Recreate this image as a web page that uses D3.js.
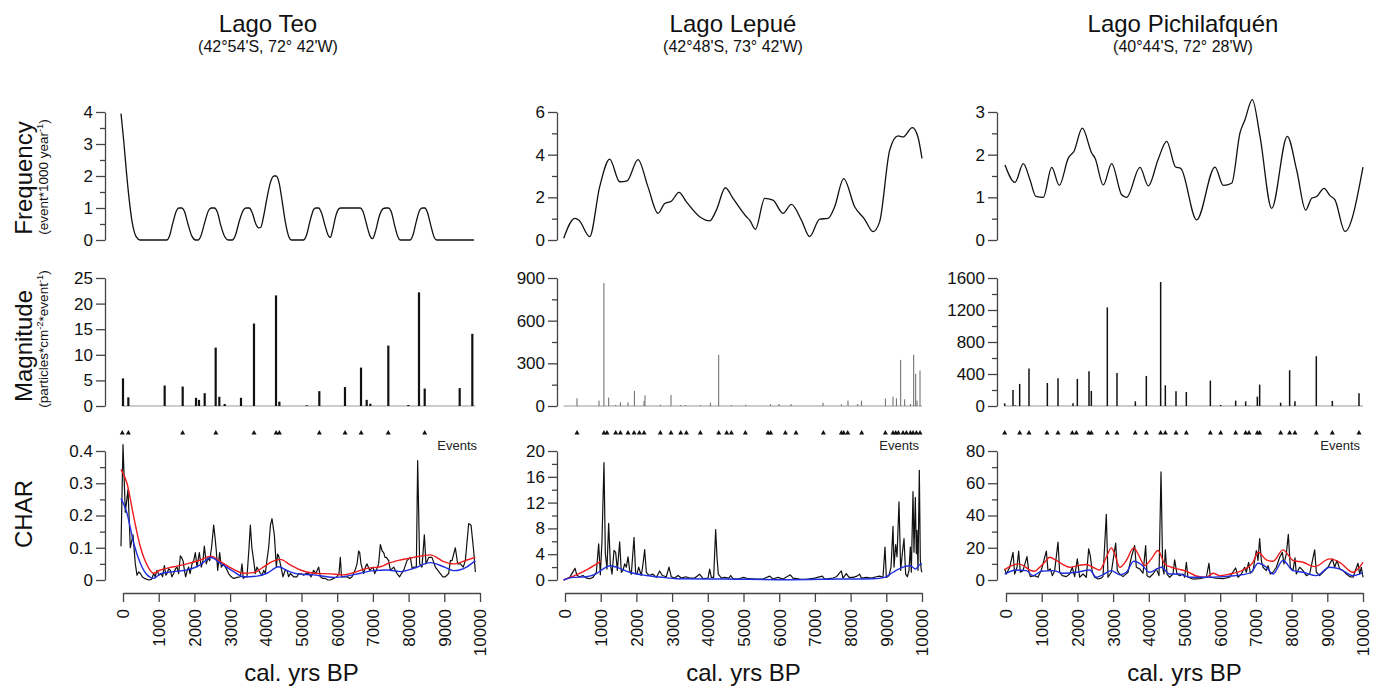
<!DOCTYPE html>
<html>
<head>
<meta charset="utf-8">
<title>Fire history - Lago Teo, Lepué, Pichilafquén</title>
<script src="https://d3js.org/d3.v7.min.js"></script>
<style>
  body { margin: 0; background: #fff; }
  svg { font-family: "Liberation Sans", Arial, sans-serif; }
</style>
</head>
<body>
<div id="chart"></div>
<script>
// ---------- data: [cal. yrs BP, value] ----------

// Lago Teo
const teoFreq = [[-56,3.95],[20,3.1],[90,2.2],[170,1.3],[250,0.6],[330,0.2],[420,0.03],[476,0],
  [1223,0],[1300,0.12],[1400,0.55],[1500,0.92],[1560,1],[1650,1],[1720,0.9],[1820,0.5],[1930,0.12],[2030,0],
  [2100,0],[2180,0.12],[2290,0.55],[2400,0.93],[2470,1],[2560,1],[2640,0.88],[2740,0.45],[2850,0.1],[2950,0],
  [3060,0],[3150,0.15],[3260,0.6],[3380,0.95],[3450,1],[3540,1],[3620,0.85],[3720,0.5],[3800,0.38],[3860,0.4],
  [3940,0.75],[4040,1.35],[4130,1.8],[4230,2.0],[4290,2.0],[4370,1.8],[4460,1.2],[4550,0.55],[4640,0.12],[4725,0],
  [5050,0],[5140,0.15],[5240,0.6],[5340,0.95],[5400,1],[5480,1],[5560,0.85],[5660,0.45],[5760,0.12],[5810,0.08],
  [5870,0.3],[5960,0.75],[6050,0.98],[6100,1],[6650,1],[6720,0.9],[6820,0.5],[6920,0.12],[6990,0.04],
  [7080,0.3],[7180,0.75],[7290,0.98],[7360,1],[7440,1],[7510,0.9],[7610,0.45],[7700,0.1],[7760,0],
  [8040,0],[8120,0.15],[8220,0.6],[8320,0.95],[8390,1],[8460,1],[8530,0.85],[8630,0.42],[8720,0.08],[8790,0],[9830,0]];
const teoMag = [[0,5.4],[150,1.7],[1167,4.0],[1672,3.8],[2045,1.6],[2129,1.2],[2288,2.5],[2596,11.4],[2698,1.8],
  [2848,0.4],[3305,1.6],[3669,16.1],[4286,21.6],[4380,0.85],[5146,0.15],[5499,2.9],[6218,3.7],[6667,7.5],[6826,1.2],
  [6928,0.45],[7432,11.8],[7992,0.2],[8291,22.2],[8451,3.4],[9431,3.5],[9785,14.1]];
const teoEvents = [-20,150,1670,2600,3670,4290,4380,5500,6220,6670,7430,8450];
const teoChar = [[-56,0.105],[0,0.42],[65,0.21],[140,0.28],[205,0.10],[280,0.14],[345,0.05],[392,0.015],[440,0.025],
  [486,0.02],[540,0.01],[598,0.005],[719,0],[800,0.002],[859,0.02],[900,0.01],[952,0.03],[1010,0.015],[1064,0.02],
  [1110,0.01],[1158,0.045],[1200,0.015],[1232,0.02],[1280,0.035],[1326,0.03],[1370,0.01],[1419,0.02],[1470,0.035],
  [1513,0.04],[1560,0.02],[1606,0.075],[1640,0.07],[1681,0.06],[1720,0.03],[1755,0.01],[1800,0.03],[1839,0.04],
  [1880,0.02],[1933,0.05],[1980,0.06],[2026,0.085],[2073,0.04],[2138,0.085],[2194,0.04],[2240,0.06],[2278,0.105],
  [2334,0.05],[2380,0.07],[2428,0.06],[2480,0.1],[2540,0.17],[2580,0.13],[2614,0.09],[2652,0.03],[2708,0.085],
  [2754,0.04],[2820,0.05],[2894,0.035],[2960,0.02],[3030,0.01],[3100,0.005],[3200,0.008],[3287,0.01],[3333,0.05],
  [3370,0.005],[3420,0.01],[3473,0.01],[3530,0.1],[3567,0.17],[3610,0.1],[3660,0.06],[3707,0.02],[3750,0.04],
  [3800,0.03],[3850,0.02],[3894,0.015],[3940,0.03],[3987,0.02],[4030,0.06],[4080,0.1],[4130,0.17],[4174,0.19],
  [4239,0.14],[4295,0.04],[4330,0.08],[4360,0.075],[4426,0.04],[4482,0.01],[4540,0.03],[4594,0.03],[4640,0.01],
  [4687,0.02],[4781,0.01],[4874,0.01],[4920,0.02],[4967,0.02],[5061,0.015],[5130,0.02],[5201,0.02],[5270,0.01],
  [5341,0.03],[5400,0.02],[5481,0.04],[5528,0.01],[5600,0.005],[5668,0.005],[5740,0],[5808,0],[5900,0.005],
  [5994,0.01],[6050,0.02],[6088,0.07],[6120,0.01],[6162,0.01],[6274,0.01],[6350,0.005],[6415,0.01],[6500,0.03],
  [6555,0.05],[6601,0.09],[6630,0.085],[6667,0.05],[6741,0.02],[6790,0.04],[6835,0.05],[6909,0.03],[7003,0.04],
  [7050,0.02],[7096,0.03],[7160,0.05],[7208,0.11],[7260,0.09],[7302,0.085],[7340,0.07],[7376,0.07],[7442,0.06],
  [7489,0.03],[7582,0.04],[7675,0.02],[7750,0.01],[7800,0.02],[7862,0.03],[7955,0.06],[8049,0.07],[8100,0.035],
  [8142,0.04],[8217,0.04],[8254,0.37],[8310,0.05],[8375,0.04],[8441,0.14],[8487,0.05],[8562,0.07],[8655,0.07],
  [8749,0.04],[8820,0.03],[8889,0.02],[8960,0.01],[9029,0.01],[9122,0.02],[9170,0.06],[9216,0.06],[9309,0.1],
  [9375,0.05],[9450,0.05],[9530,0.04],[9590,0.06],[9683,0.175],[9749,0.17],[9823,0.09],[9870,0.025]];
const teoThreshold = [[-56,0.343],[112,0.30],[300,0.196],[486,0.103],[672,0.047],[859,0.021],[1046,0.031],[1419,0.041],
  [1793,0.05],[2166,0.062],[2465,0.074],[2726,0.057],[3100,0.033],[3380,0.021],[3660,0.023],[3940,0.041],[4174,0.057],
  [4407,0.064],[4687,0.047],[4967,0.031],[5341,0.021],[5808,0.019],[6181,0.016],[6461,0.023],[6835,0.036],[7208,0.041],
  [7442,0.052],[7768,0.062],[8142,0.07],[8609,0.078],[8982,0.057],[9262,0.05],[9636,0.062],[9870,0.07]];
const teoBackground = [[-56,0.253],[112,0.207],[300,0.114],[486,0.052],[672,0.016],[859,0.005],[1046,0.019],[1419,0.026],
  [1793,0.031],[2166,0.047],[2465,0.07],[2726,0.052],[3100,0.026],[3380,0.01],[3754,0.012],[4034,0.021],[4360,0.041],
  [4594,0.029],[4874,0.019],[5341,0.016],[5901,0.008],[6274,0.012],[6648,0.021],[7021,0.029],[7395,0.031],[7768,0.026],
  [8142,0.036],[8609,0.054],[8982,0.041],[9262,0.029],[9636,0.041],[9870,0.06]];

// Lago Lepué
const lepueFreq = [[-36,0.08],[272,1.01],[392,0.93],[692,0.16],[972,2.5],[1252,3.79],[1532,2.73],[1737,2.77],[2045,3.77],
  [2325,2.49],[2605,1.25],[2793,1.71],[2980,1.82],[3193,2.23],[3400,1.79],[3773,1.09],[4053,0.9],[4240,1.4],[4492,2.45],
  [4706,1.95],[5080,1.09],[5173,0.93],[5333,0.5],[5594,1.95],[5826,1.87],[6106,1.25],[6342,1.67],[6622,0.93],[6854,0.16],
  [7134,0.98],[7367,1.01],[7554,1.56],[7806,2.88],[8114,1.56],[8394,0.97],[8627,0.39],[8814,0.86],[9094,4.2],[9326,4.88],
  [9466,4.83],[9730,5.27],[9887,4.83],[10000,3.82]];
const lepueMag = [[336,54],[952,38],[1090,865],[1224,59],[1420,7],[1552,26],[1765,26],[1944,106],[2213,35],[2241,75],
  [2672,9],[2969,78],[3241,7],[3381,7],[3793,7],[4073,23],[4305,360],[4661,7],[5061,9],[5753,12],[5994,14],[6330,14],
  [7227,23],[7742,12],[7927,38],[8199,14],[8302,38],[8975,52],[9187,66],[9283,54],[9403,324],[9515,47],[9675,14],
  [9767,360],[9823,226],[9860,38],[9944,249]];
const lepueEvents = [337,1093,1177,1420,1551,1765,1934,2083,2214,2671,2970,3241,3400,3792,4305,4529,4660,5052,5687,5762,
  6173,6471,7237,7741,7807,7919,8311,8974,9188,9263,9338,9468,9562,9674,9749,9842,9944];
const lepueChar = [[-37,0],[131,0.4],[280,1.8],[336,0.7],[411,0.5],[504,0.7],[598,0.3],[691,0.2],[784,0.4],[878,1.2],
  [943,5.6],[990,0.8],[1036,6.1],[1092,18.2],[1130,4.1],[1176,1.7],[1223,8.8],[1270,2.5],[1317,0.9],[1373,4.6],
  [1419,4.3],[1466,1.5],[1531,5.9],[1578,1.2],[1625,1.5],[1671,2.5],[1718,2.0],[1765,3.6],[1811,1.5],[1858,0.9],
  [1933,6.6],[1979,1.0],[2017,0.9],[2063,2.0],[2138,0.7],[2185,2.5],[2232,4.7],[2278,1.2],[2353,0.7],[2465,0.9],
  [2558,0.4],[2652,1.4],[2726,0.7],[2838,0.5],[2913,2.0],[2978,0.5],[3072,0.3],[3165,0.7],[3259,0.3],[3380,0.5],
  [3492,0.3],[3632,0.3],[3772,0.9],[3865,0.2],[4006,0.3],[4052,1.7],[4099,0.4],[4164,0.4],[4220,7.8],[4258,3.5],
  [4295,0.9],[4379,0.3],[4472,0.4],[4594,0.3],[4641,0.7],[4706,0.2],[4846,0.15],[5005,0.4],[5126,0.2],[5360,0.15],
  [5546,0.15],[5733,0.6],[5826,0.15],[5966,0.4],[6106,0.15],[6312,0.8],[6386,0.3],[6573,0.15],[6760,0.1],[6993,0.3],
  [7208,0.6],[7274,0.15],[7507,0.3],[7600,0.5],[7740,1.4],[7787,0.3],[7880,1.0],[7955,0.4],[8067,0.4],[8179,0.6],
  [8254,0.9],[8301,0.3],[8441,0.4],[8581,0.3],[8721,0.5],[8814,0.6],[8907,0.4],[8964,5.1],[9001,0.4],[9076,0.7],
  [9132,2.0],[9188,8.3],[9216,2.0],[9262,5.5],[9300,3.6],[9356,12.1],[9402,1.5],[9449,4.1],[9496,6.4],[9542,0.9],
  [9589,0.5],[9636,1.5],[9673,5.1],[9701,1.2],[9748,13.7],[9776,4.3],[9813,12.8],[9841,4.1],[9860,7.7],[9888,1.5],
  [9925,17.0],[9953,3.0],[9981,1.5],[10000,1.2]];
const lepueThreshold = [[-37,0],[317,0.8],[644,1.7],[1000,2.9]];
const lepueBackground = [[-37,0],[224,0.4],[598,0.5],[878,1.0],[1064,1.7],[1270,2.2],[1438,2.0],[1811,1.2],[2278,0.7],
  [2745,0.4],[3119,0.2],[4426,0.15],[6293,0.05],[7694,0.15],[8627,0.2],[8954,0.4],[9188,1.2],[9468,2.0],[9673,2.2],
  [9822,1.7],[9935,2.4],[10000,2.5]];

// Lago Pichilafquén
const pichiFreq = [[-28,1.76],[252,1.35],[485,1.79],[672,1.41],[840,1.02],[1045,1.0],[1280,1.7],[1493,1.28],[1745,1.92],
  [1905,2.08],[2137,2.62],[2400,2.04],[2493,1.92],[2725,1.29],[2960,1.79],[3240,1.06],[3380,1.0],[3753,1.7],[3986,1.27],
  [4266,1.9],[4501,2.31],[4753,1.71],[4893,1.68],[5341,0.47],[5854,1.71],[6087,1.28],[6322,1.33],[6554,2.51],[6694,2.82],
  [6899,3.29],[7115,2.43],[7442,0.74],[7879,2.43],[8142,1.64],[8394,0.70],[8563,0.98],[8703,1.02],[8907,1.21],[9075,1.04],
  [9215,0.94],[9495,0.2],[10000,1.71]];
const pichiMag = [[-37,33],[196,200],[261,8],[383,276],[644,468],[1158,288],[1457,347],[1877,33],[1998,338],[2325,434],
  [2390,188],[2838,1232],[3109,414],[3623,58],[3931,376],[4332,1550],[4463,259],[4762,184],[5051,175],[5724,317],
  [6013,13],[6433,67],[6713,58],[6806,4],[7040,117],[7105,267],[7693,42],[7945,447],[8094,58],[8692,622],[9141,63],
  [9888,159]];
const pichiEvents = [-37,383,644,1148,1457,1858,1970,2316,2390,2838,3109,3623,3931,4332,4463,4762,5051,5724,6013,6433,
  6713,6806,7040,7105,7693,7945,8094,8692,9141,9888];
const pichiChar = [[-37,6.9],[9,3.7],[103,7.9],[196,17.2],[243,3.7],[308,7.9],[355,17.9],[401,4.8],[476,5.8],[588,14.5],
  [635,5.8],[682,2.1],[803,2.7],[896,1.7],[990,6.2],[1036,10],[1130,17.9],[1176,5.8],[1242,6.9],[1298,2.7],[1363,5.8],
  [1457,23.5],[1503,4.8],[1578,2.7],[1690,2.1],[1783,3.7],[1858,7.9],[1923,2.1],[1998,13.1],[2063,1.7],[2157,3.7],
  [2250,1.7],[2316,19.3],[2362,15.0],[2418,4.8],[2484,1.7],[2577,0.6],[2670,1.2],[2717,2.1],[2810,40.7],[2857,1.7],
  [2950,4.8],[3072,22.9],[3119,5.8],[3184,3.7],[3277,2.1],[3417,4.8],[3511,14.1],[3604,21.4],[3651,7.9],[3744,6.9],
  [3838,4.2],[3912,21.4],[3950,2.7],[4024,1.7],[4118,3.7],[4211,6.9],[4286,2.7],[4342,67.1],[4388,7.9],[4426,3.7],
  [4463,18.7],[4510,3.7],[4584,1.7],[4678,3.7],[4724,12.5],[4790,3.7],[4865,2.7],[4958,3.7],[5005,1.7],[5051,11.0],
  [5098,1.7],[5238,0.6],[5425,0.8],[5612,1.7],[5686,10.4],[5724,1.7],[5892,1.2],[6078,0.8],[6265,1.7],[6433,7.5],
  [6499,1.7],[6592,3.7],[6685,7.9],[6732,4.8],[6797,11.0],[6844,4.2],[6919,5.8],[7012,18.3],[7059,12.1],[7105,25.6],
  [7152,12.1],[7199,7.9],[7292,5.8],[7339,8.9],[7404,3.7],[7479,4.8],[7572,7.9],[7666,14.1],[7740,17.2],[7787,10],
  [7852,16.2],[7908,28.3],[7964,7.9],[8039,5.8],[8095,13.7],[8132,3.7],[8226,7.9],[8319,5.8],[8413,2.7],[8506,3.7],
  [8646,18.7],[8693,4.8],[8786,2.7],[8879,4.8],[9019,7.9],[9141,13.1],[9206,7.9],[9272,12.1],[9346,6.9],[9440,5.8],
  [9533,3.7],[9626,2.1],[9720,1.7],[9860,10.4],[9907,3.7],[9953,7.9],[10000,1.7]];
const pichiThreshold = [[-37,6.4],[103,8.3],[336,10],[476,9.1],[663,6.2],[803,5.4],[943,7.9],[1083,11],[1223,14.1],
  [1410,12.1],[1597,9.6],[1783,7.9],[2017,8.9],[2250,9.6],[2437,7.9],[2624,6.2],[2810,14.1],[2950,19.9],[3044,16.2],
  [3184,7.9],[3371,12.1],[3576,19.9],[3698,16.2],[3884,8.9],[4071,13.1],[4258,18.3],[4444,10],[4631,7.9],[4865,6.6],
  [5051,5.4],[5331,2.5],[5612,1.7],[5798,4.2],[5985,2.7],[6265,3.7],[6639,6.2],[6919,11],[7059,17.2],[7292,12.5],
  [7479,11.6],[7759,18.7],[8039,12.1],[8319,11],[8646,8.3],[9066,13.1],[9346,11],[9720,4.8],[10000,11]];
const pichiBackground = [[-37,3.7],[289,6.2],[569,5.8],[756,2.7],[990,5.4],[1317,5.8],[1597,4.2],[1970,4.8],[2344,6.2],
  [2530,1.7],[2717,3.3],[2950,5.8],[3184,3.3],[3371,4.8],[3576,11.6],[3791,9.6],[4024,4.8],[4351,7.9],[4584,3.7],
  [4865,3.7],[5145,1.7],[5612,1.7],[6078,2.1],[6639,3.3],[6872,4.8],[7059,10.4],[7292,7.9],[7479,3.7],[7759,12.1],
  [8039,5.8],[8319,4.8],[8693,2.7],[9066,7.9],[9346,6.9],[9720,2.7],[10000,4.8]];

// x axis ticks (shared)
const yearTicks = [0,1000,2000,3000,4000,5000,6000,7000,8000,9000,10000];

// ---------- layout ----------
const width = 1379, height = 686;
const plotW = 357;
const rowFreq = {top: 112, bottom: 240};
const rowMag = {top: 278, bottom: 406};
const rowChar = {top: 451, bottom: 580};
const eventsY = 433;
const xAxisY = 593;
const axisColor = "#444";

const panels = [
  {title: "Lago Teo", coords: "(42°54'S, 72° 42'W)", titleX: 268, axisX: 105, x0: 123,
   freq: teoFreq, freqMajor: [0,1,2,3,4], freqMinor: [0.5,1.5,2.5,3.5],
   mag: teoMag, magMajor: [0,5,10,15,20,25], magMinor: [],
   events: teoEvents, char: teoChar, thr: teoThreshold, bkg: teoBackground,
   charMajor: [0,0.1,0.2,0.3,0.4], charMinor: [0.05,0.15,0.25,0.35],
   barColor: "#111", barW: 2.2},
  {title: "Lago Lepué", coords: "(42°48'S, 73° 42'W)", titleX: 733, axisX: 557, x0: 565,
   freq: lepueFreq, freqMajor: [0,2,4,6], freqMinor: [1,3,5],
   mag: lepueMag, magMajor: [0,300,600,900], magMinor: [150,450,750],
   events: lepueEvents, char: lepueChar, thr: lepueThreshold, bkg: lepueBackground,
   charMajor: [0,4,8,12,16,20], charMinor: [2,6,10,14,18],
   barColor: "#666", barW: 1},
  {title: "Lago Pichilafquén", coords: "(40°44'S, 72° 28'W)", titleX: 1183, axisX: 997, x0: 1006,
   freq: pichiFreq, freqMajor: [0,1,2,3], freqMinor: [0.5,1.5,2.5],
   mag: pichiMag, magMajor: [0,400,800,1200,1600], magMinor: [200,600,1000,1400],
   events: pichiEvents, char: pichiChar, thr: pichiThreshold, bkg: pichiBackground,
   charMajor: [0,20,40,60,80], charMinor: [10,30,50,70],
   barColor: "#111", barW: 1.5}
];

const svg = d3.select("#chart")
    .append("svg")
      .attr("width", width)
      .attr("height", height);

function yAxis(scale, axisX, major, minor) {
    let g = svg.append("g").attr("transform", "translate(" + axisX + ",0)");
    if (minor.length) {
        g.append("g")
            .call(d3.axisLeft(scale).tickValues(minor).tickSize(5).tickFormat(""))
            .call(s => s.select(".domain").remove());
    }
    g.append("g")
        .call(d3.axisLeft(scale).tickValues(major).tickSize(9).tickSizeOuter(0)
              .tickPadding(3).tickFormat(d => String(d)));
    g.selectAll("path, line").attr("stroke", axisColor).attr("stroke-width", 1.3);
    g.selectAll("text").attr("font-size", 17).attr("font-family", null).attr("fill", "#111");
}

// parts: plain strings, or ["sup", text] for superscripts
function rotLabel(x, y, size, parts) {
    let t = svg.append("text")
        .attr("transform", "translate(" + x + "," + y + ") rotate(-90)")
        .attr("text-anchor", "middle")
        .attr("font-size", size)
        .attr("fill", "#111");
    parts.forEach(p => {
        if (typeof p === "string") {
            t.append("tspan").text(p);
        } else {
            t.append("tspan").attr("baseline-shift", "super").attr("font-size", size * 0.7).text(p[1]);
        }
    });
}

function drawPanel(p) {
    let x = d3.scaleLinear().domain([0, 10000]).range([p.x0, p.x0 + plotW]);

    svg.append("text").attr("x", p.titleX).attr("y", 32).attr("text-anchor", "middle")
        .attr("font-size", 24).attr("fill", "#111").text(p.title);
    svg.append("text").attr("x", p.titleX).attr("y", 52).attr("text-anchor", "middle")
        .attr("font-size", 16).attr("fill", "#111").text(p.coords);

    // frequency
    let yF = d3.scaleLinear().domain([0, d3.max(p.freqMajor)]).range([rowFreq.bottom, rowFreq.top]);
    yAxis(yF, p.axisX, p.freqMajor, p.freqMinor);
    svg.append("path").datum(p.freq)
        .attr("fill", "none").attr("stroke", "#111").attr("stroke-width", 1.3)
        .attr("d", d3.line().x(d => x(d[0])).y(d => yF(d[1])).curve(d3.curveMonotoneX));

    // magnitude
    let yM = d3.scaleLinear().domain([0, d3.max(p.magMajor)]).range([rowMag.bottom, rowMag.top]);
    yAxis(yM, p.axisX, p.magMajor, p.magMinor);
    let last = d3.max(p.char, d => d[0]);
    svg.append("line")
        .attr("x1", x(-40)).attr("x2", x(last))
        .attr("y1", yM(0)).attr("y2", yM(0))
        .attr("stroke", "#999").attr("stroke-width", 1);
    svg.selectAll(null).data(p.mag).join("line")
        .attr("x1", d => x(d[0])).attr("x2", d => x(d[0]))
        .attr("y1", yM(0)).attr("y2", d => yM(d[1]))
        .attr("stroke", p.barColor).attr("stroke-width", p.barW);

    // events
    svg.selectAll(null).data(p.events).join("path")
        .attr("transform", d => "translate(" + x(d) + "," + eventsY + ")")
        .attr("d", d3.symbol(d3.symbolTriangle, 11))
        .attr("fill", "#111");
    svg.append("text").attr("x", x(10000) - 3).attr("y", 450).attr("text-anchor", "end")
        .attr("font-size", 13).attr("fill", "#222").text("Events");

    // CHAR
    let yC = d3.scaleLinear().domain([0, d3.max(p.charMajor)]).range([rowChar.bottom, rowChar.top]);
    yAxis(yC, p.axisX, p.charMajor, p.charMinor);
    svg.append("path").datum(p.char)
        .attr("fill", "none").attr("stroke", "#111").attr("stroke-width", 1.2).attr("stroke-linejoin", "round")
        .attr("d", d3.line().x(d => x(d[0])).y(d => yC(d[1])));
    let smooth = d3.line().x(d => x(d[0])).y(d => yC(d[1])).curve(d3.curveMonotoneX);
    svg.append("path").datum(p.thr)
        .attr("fill", "none").attr("stroke", "#ee1c1c").attr("stroke-width", 1.4).attr("d", smooth);
    svg.append("path").datum(p.bkg)
        .attr("fill", "none").attr("stroke", "#1f2fe0").attr("stroke-width", 1.4).attr("d", smooth);

    // x axis
    let gx = svg.append("g").attr("transform", "translate(0," + xAxisY + ")")
        .call(d3.axisBottom(x).tickValues(yearTicks).tickSize(9).tickSizeOuter(0)
              .tickFormat(d => String(d)));
    gx.selectAll("path, line").attr("stroke", axisColor).attr("stroke-width", 1.3);
    gx.selectAll("text")
        .attr("font-size", 17).attr("font-family", null).attr("fill", "#111")
        .attr("y", 0).attr("x", -16).attr("dy", "0.35em")
        .attr("transform", "rotate(-90)")
        .style("text-anchor", "end");
    svg.append("text").attr("x", x(5000)).attr("y", 681).attr("text-anchor", "middle")
        .attr("font-size", 24).attr("fill", "#111").text("cal. yrs BP");
}

panels.forEach(drawPanel);

// y labels on the left column
rotLabel(32, 178, 24, ["Frequency"]);
rotLabel(48, 177, 13.5, ["(event*1000 year", ["sup", "-1"], ")"]);
rotLabel(32, 346, 24, ["Magnitude"]);
rotLabel(48, 339, 13.5, ["(particles*cm", ["sup", "-2"], "*event", ["sup", "-1"], ")"]);
rotLabel(32, 514, 24, ["CHAR"]);
</script>
</body>
</html>
